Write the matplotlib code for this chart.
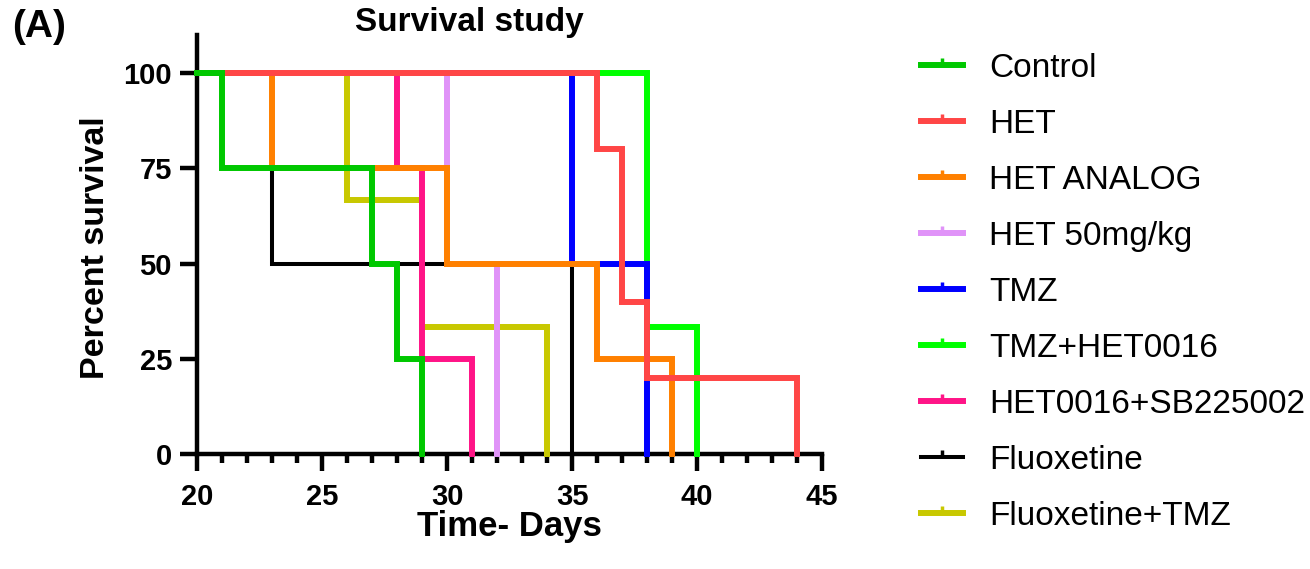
import numpy as np
import matplotlib
matplotlib.use("Agg")
import matplotlib.pyplot as plt
from matplotlib.lines import Line2D
from matplotlib.ticker import MultipleLocator

plt.rcParams['font.family'] = ['Liberation Sans', 'DejaVu Sans']

# survival curves (time in days, percent survival)
groups = ['Control', 'HET', 'HET ANALOG', 'HET 50mg/kg', 'TMZ',
          'TMZ+HET0016', 'HET0016+SB225002', 'Fluoxetine', 'Fluoxetine+TMZ']
days = [
    [20, 21, 27, 28, 29],
    [20, 36, 37, 38, 44],
    [20, 23, 30, 36, 39],
    [20, 30, 32],
    [20, 35, 38],
    [20, 38, 40],
    [20, 28, 29, 31],
    [20, 23, 35],
    [20, 26, 29, 34],
]
survival = [
    [100, 75, 50, 25, 0],
    [100, 80, 40, 20, 0],
    [100, 75, 50, 25, 0],
    [100, 50, 0],
    [100, 50, 0],
    [100, 33.3, 0],
    [100, 75, 25, 0],
    [100, 50, 0],
    [100, 66.7, 33.3, 0],
]
colors = ['#00C800', '#FF4646', '#FF8000', '#E093F8', '#0000FF',
          '#00FF00', '#FF1487', '#000000', '#C8C800']

fig = plt.figure(figsize=(13.1, 5.69), dpi=100)
ax = fig.add_axes([0.1504, 0.2021, 0.4771, 0.7364])

handles = []
n = len(groups)
for i in range(n):
    lw = 2.9 if colors[i] == '#000000' else 4.3
    # first group is drawn on top, as in the original
    ax.plot(days[i], survival[i], drawstyle='steps-post', color=colors[i],
            lw=lw, zorder=3 + n - i, solid_joinstyle='miter', clip_on=False)
    handles.append(Line2D([0], [0], color=colors[i], lw=lw, marker=2,
                          markersize=5, markeredgewidth=2.5))

ax.set_xlim(20, 45)
ax.set_ylim(0, 110)
ax.set_yticks([0, 25, 50, 75, 100])
ax.xaxis.set_major_locator(MultipleLocator(5))
ax.xaxis.set_minor_locator(MultipleLocator(1))

for s in ['top', 'right']:
    ax.spines[s].set_visible(False)
for s in ['left', 'bottom']:
    ax.spines[s].set_linewidth(3.2)

ax.tick_params(axis='both', which='major', length=12, width=3.2,
               labelsize=21, pad=6)
ax.tick_params(axis='x', which='major', pad=9)
ax.tick_params(axis='x', which='minor', length=6.5, width=3.2)
for lab in ax.get_xticklabels() + ax.get_yticklabels():
    lab.set_fontweight('bold')

fig.text(0.073, 0.565, 'Percent survival', rotation=90, fontsize=24.5,
         fontweight='bold', ha='center', va='center')
fig.text(0.389, 0.074, 'Time- Days', fontsize=25, fontweight='bold',
         ha='center', va='center')
fig.text(0.358, 0.961, 'Survival study', fontsize=24, fontweight='bold',
         ha='center', va='center')
fig.text(0.009, 0.953, '(A)', fontsize=28, fontweight='bold',
         ha='left', va='center')

fig.legend(handles, groups, loc='upper left', bbox_to_anchor=(0.693, 0.93),
           frameon=False, fontsize=24, handlelength=1.25, handletextpad=0.8,
           labelspacing=0.75, borderaxespad=0)

fig.savefig('out.png', dpi=100)
